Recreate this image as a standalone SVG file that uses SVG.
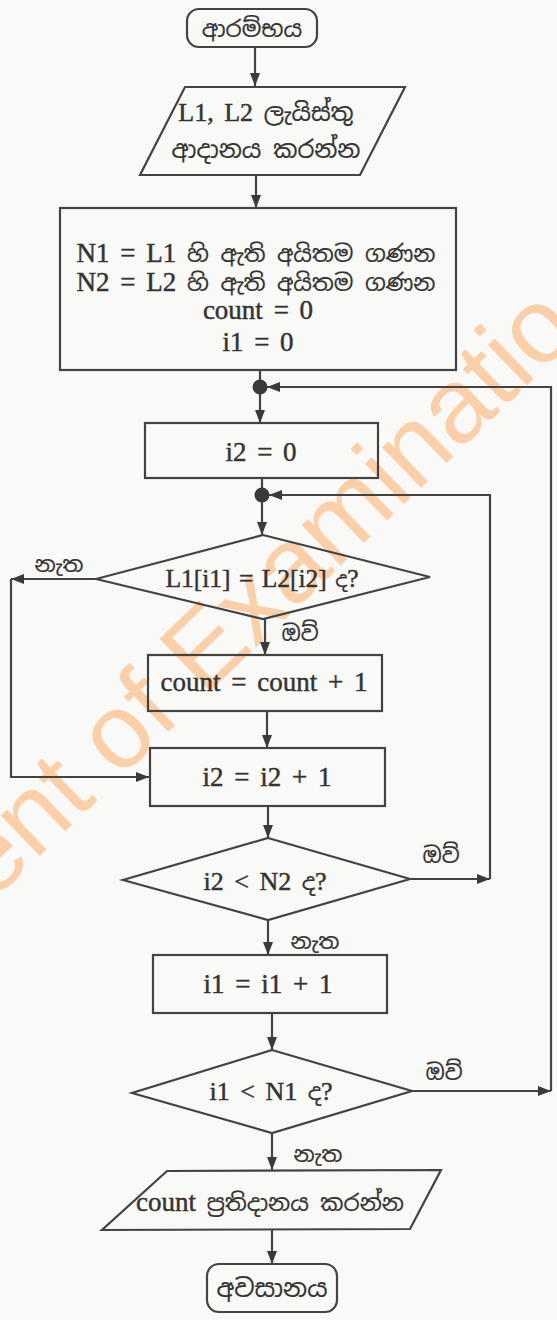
<svg xmlns="http://www.w3.org/2000/svg" width="557" height="1320" viewBox="0 0 557 1320">
<style>
.bg{fill:#f9f9f7}
.shape{fill:none;stroke:#434343;stroke-width:2.2;stroke-linejoin:miter}
.con{fill:none;stroke:#434343;stroke-width:2.2}
.dot{fill:#3a3a3a}
.t{font-family:"Liberation Serif","Noto Serif Sinhala","Noto Sans Sinhala","Iskoola Pota",serif;font-size:27px;fill:#333;stroke:#333;stroke-width:0.45;text-anchor:middle;word-spacing:4px}
.si{font-family:"Noto Sans Sinhala","Noto Serif Sinhala","Iskoola Pota","Liberation Serif",serif;font-size:23px;stroke-width:0.2;word-spacing:0}
.s{font-family:"Noto Sans Sinhala","Noto Serif Sinhala","Iskoola Pota","Liberation Serif",serif;font-size:24px;fill:#333;stroke:#333;stroke-width:0.2;text-anchor:middle}
.lbl{font-family:"Noto Sans Sinhala","Noto Serif Sinhala","Iskoola Pota","Liberation Sans",sans-serif;font-size:22px;fill:#333;stroke:#333;stroke-width:0.2;text-anchor:middle}
.wm{font-family:"Liberation Sans",Arial,sans-serif;font-size:106px;fill:#fbd0a8}
</style>
<defs>
<marker id="arr" viewBox="0 0 13 10" refX="13" refY="5" markerWidth="13" markerHeight="10" markerUnits="userSpaceOnUse" orient="auto">
<path d="M0,0 L13,5 L0,10 Z" fill="#3a3a3a"/>
</marker>
</defs>
<rect class="bg" x="0" y="0" width="557" height="1320"/>
<g id="watermark">
<text class="wm" transform="translate(-8,902) rotate(-44)" x="0" y="0">ent of Examinatio</text>
</g>
<g id="connectors">
<path class="con" d="M255,47 V86" marker-end="url(#arr)"/>
<path class="con" d="M256,175 V208" marker-end="url(#arr)"/>
<path class="con" d="M260,370 V387"/>
<path class="con" d="M260,387 V423" marker-end="url(#arr)"/>
<path class="con" d="M262,478 V495"/>
<path class="con" d="M262,495 V535" marker-end="url(#arr)"/>
<path class="con" d="M96,579 H11" marker-end="url(#arr)"/>
<path class="con" d="M11,579 V777 H149" marker-end="url(#arr)"/>
<path class="con" d="M265,619 V655" marker-end="url(#arr)"/>
<path class="con" d="M267,711 V748" marker-end="url(#arr)"/>
<path class="con" d="M268,806 V838" marker-end="url(#arr)"/>
<path class="con" d="M410,879 H490" marker-end="url(#arr)"/>
<path class="con" d="M490,879 V495 H269" marker-end="url(#arr)"/>
<path class="con" d="M268,920 V955" marker-end="url(#arr)"/>
<path class="con" d="M272,1013 V1050" marker-end="url(#arr)"/>
<path class="con" d="M412,1091 H551" marker-end="url(#arr)"/>
<path class="con" d="M551,1091 V387 H267" marker-end="url(#arr)"/>
<path class="con" d="M272,1133 V1170" marker-end="url(#arr)"/>
<path class="con" d="M272,1229 V1264" marker-end="url(#arr)"/>
<circle class="dot" cx="260" cy="387" r="7.5"/>
<circle class="dot" cx="262" cy="495" r="7.5"/>
<text class="lbl" x="59" y="572">නැත</text>
<text class="lbl" x="300" y="641">ඔව්</text>
<text class="lbl" x="441" y="863">ඔව්</text>
<text class="lbl" x="315" y="949">නැත</text>
<text class="lbl" x="444" y="1080">ඔව්</text>
<text class="lbl" x="318" y="1162">නැත</text>
</g>
<g id="start">
<rect class="shape" x="187" y="9" width="130" height="38" rx="12"/>
<text class="s" x="252" y="37" style="font-size:23px">ආරම්භය</text>
</g>
<g id="input">
<polygon class="shape" points="185,87 405,87 360,175 140,175"/>
<text class="t" x="266" y="121" style="font-size:26px">L1, L2 <tspan class="si" style="font-size:24px">ලැයිස්තු</tspan></text>
<text class="s" x="266" y="158" style="font-size:24px">ආදානය කරන්න</text>
</g>
<g id="init">
<rect class="shape" x="60" y="208" width="396" height="162"/>
<text class="t" x="256" y="262">N1 = L1 <tspan class="si">හි ඇති අයිතම ගණන</tspan></text>
<text class="t" x="256" y="291">N2 = L2 <tspan class="si">හි ඇති අයිතම ගණන</tspan></text>
<text class="t" x="258" y="319">count = 0</text>
<text class="t" x="258" y="351">i1 = 0</text>
</g>
<g id="i2zero">
<rect class="shape" x="145" y="423" width="233" height="55"/>
<text class="t" x="261" y="461">i2 = 0</text>
</g>
<g id="cmp">
<polygon class="shape" points="263,535 430,577 263,619 96,579"/>
<text class="t" x="262" y="587" style="font-size:25.5px;word-spacing:2px">L1[i1] = L2[i2] <tspan class="si" style="font-size:21px">ද</tspan>?</text>
</g>
<g id="inc_count">
<rect class="shape" x="148" y="655" width="234" height="56"/>
<text class="t" x="264" y="691">count = count + 1</text>
</g>
<g id="inc_i2">
<rect class="shape" x="150" y="748" width="235" height="58"/>
<text class="t" x="267" y="786">i2 = i2 + 1</text>
</g>
<g id="test_i2">
<polygon class="shape" points="268,838 410,879 268,920 123,880"/>
<text class="t" x="265" y="890" style="font-size:26px">i2 &lt; N2 <tspan class="si">ද</tspan>?</text>
</g>
<g id="inc_i1">
<rect class="shape" x="153" y="955" width="234" height="58"/>
<text class="t" x="268" y="993">i1 = i1 + 1</text>
</g>
<g id="test_i1">
<polygon class="shape" points="272,1050 412,1091 272,1133 132,1093"/>
<text class="t" x="271" y="1100" style="font-size:26px">i1 &lt; N1 <tspan class="si">ද</tspan>?</text>
</g>
<g id="output">
<polygon class="shape" points="167,1171 441,1170 410,1229 102,1230"/>
<text class="t" x="270" y="1211">count <tspan class="si">ප්‍රතිදානය කරන්න</tspan></text>
</g>
<g id="end">
<rect class="shape" x="207" y="1264" width="130" height="48" rx="12"/>
<text class="s" x="272" y="1297" style="font-size:25px">අවසානය</text>
</g>
</svg>
